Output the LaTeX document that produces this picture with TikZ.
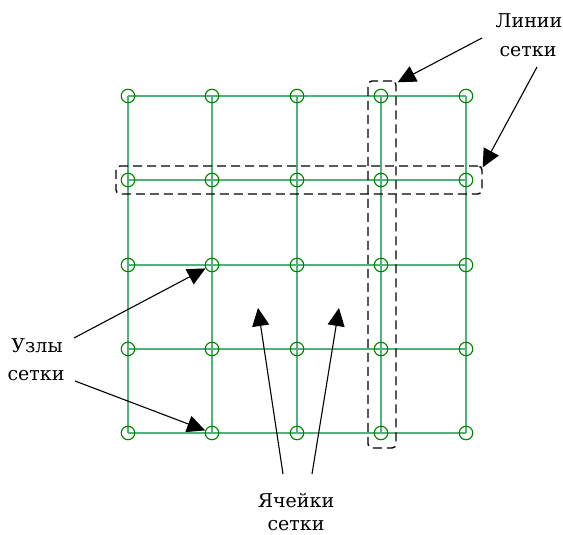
\documentclass[tikz,border=0pt]{standalone}
\usepackage{fontspec}
\setmainfont{DejaVu Serif}
\usetikzlibrary{arrows.meta,fit}
\definecolor{gridline}{RGB}{82,176,122}
\definecolor{nodering}{RGB}{0,135,0}
\begin{document}
\begin{tikzpicture}[x=1pt,y=-1pt,
  gridnode/.style={circle,draw=nodering,line width=1.1pt,minimum size=13.5pt,inner sep=0pt},
  gridwire/.style={draw=gridline,line width=1.4pt},
  groupbox/.style={draw=black,line width=1.4pt,dash pattern=on 9pt off 5pt,rounded corners=4pt},
  callout/.style={draw=black,line width=1.1pt,-{Triangle[length=18pt,width=17pt]}},
  lbl/.style={font=\rmfamily\fontsize{19}{24}\selectfont,inner sep=0pt,anchor=base}]
\useasboundingbox (0,0) rectangle (563,535);

% grid points
\foreach \i/\x in {1/128,2/212,3/297,4/381,5/466}
  \foreach \j/\y in {1/96,2/180,3/265,4/349,5/433}
    \coordinate (p\i\j) at (\x,\y);

% grid lines
\foreach \k in {1,...,5} {
  \draw[gridwire] (p\k1) -- (p\k5);
  \draw[gridwire] (p1\k) -- (p5\k);
}

% grid nodes
\foreach \i in {1,...,5}
  \foreach \j in {1,...,5}
    \node[gridnode] (n\i\j) at (p\i\j) {};

% highlighted grid lines
\node[groupbox,fit=(p41)(p45),xshift=1pt,inner xsep=14pt,inner ysep=15pt] (vline) {};
\node[groupbox,fit=(p12)(p52),xshift=2pt,inner xsep=14pt,inner ysep=14pt] (hline) {};

% labels
\node[lbl] (lin1) at (529,28) {Линии};
\node[lbl] (lin2) at (528,57) {сетки};
\node[lbl] (uz1) at (37,352) {Узлы};
\node[lbl] (uz2) at (36,380) {сетки};
\node[lbl] (ya1) at (296,507) {Ячейки};
\node[lbl] (ya2) at (296,530) {сетки};

% callout ends
\coordinate (la) at (482,38);
\coordinate (lb) at (537,67);
\coordinate (ua) at (74,338);
\coordinate (ub) at (75,381);
\coordinate (ya) at (283,474);
\coordinate (yb) at (312,474);
\coordinate (cellA) at (258,308);
\coordinate (cellB) at (339,308);

% callouts
\draw[callout] (la) -- ([shift={(1pt,-2pt)}]vline.north east);
\draw[callout] (lb) -- ([shift={(0pt,-2pt)}]hline.north east);
\draw[callout] (ua) -- (n23);
\draw[callout] (ub) -- (n25);
\draw[callout] (ya) -- (cellA);
\draw[callout] (yb) -- (cellB);
\end{tikzpicture}
\end{document}
